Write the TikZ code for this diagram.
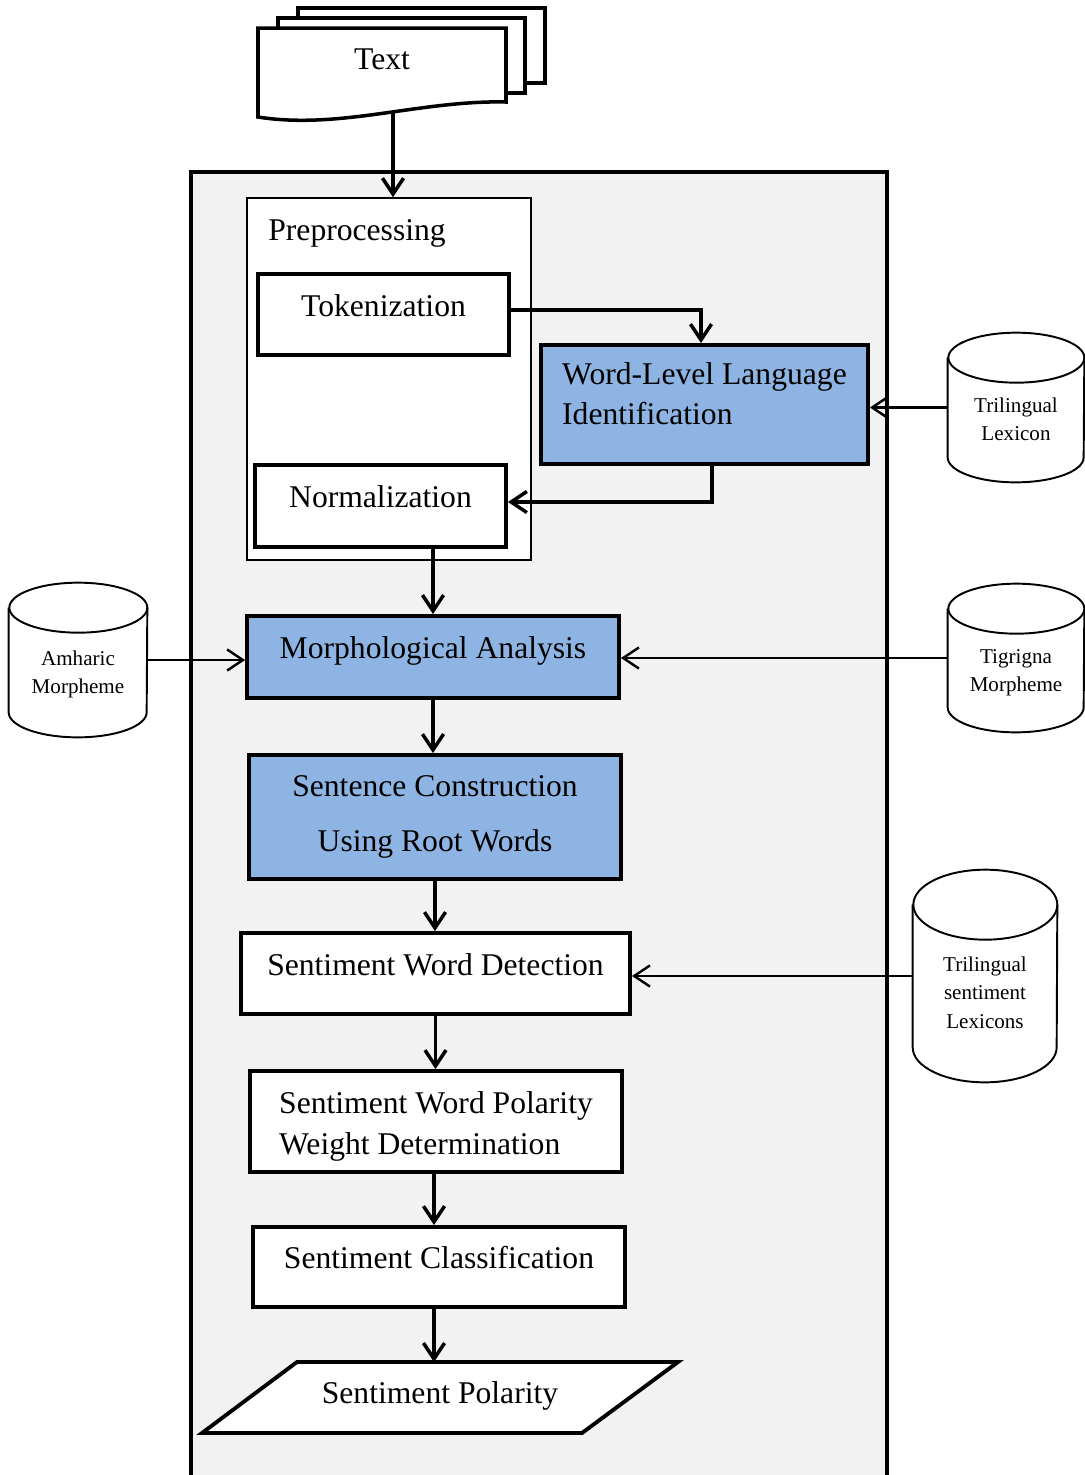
\documentclass[tikz,border=0pt]{standalone}
\usepackage{fontspec}
\setmainfont{Liberation Serif}
\usetikzlibrary{arrows.meta}

\definecolor{boxblue}{RGB}{142,180,227}
\definecolor{panelgray}{RGB}{242,242,242}

% cylinder outline round a named node: #1 node, #2 x radius, #3 y radius
\newcommand{\dbcyl}[3]{%
  \draw[dbline] ([yshift=-#3*0.02cm]#1.north west) -- ([yshift=#3*0.02cm]#1.south west)
    arc[start angle=180, end angle=360, x radius=#2, y radius=#3]
    -- ([yshift=-#3*0.02cm]#1.north east)
    arc[start angle=0, end angle=180, x radius=#2, y radius=#3];
  \draw[dbline] ([yshift=-#3*0.02cm]#1.north east)
    arc[start angle=0, end angle=-180, x radius=#2, y radius=#3];
}

\begin{document}
\begin{tikzpicture}[x=0.02cm, y=0.02cm, >={Straight Barb[length=9pt,width=12pt]},
  bigfont/.style={font=\fontsize{18}{23}\selectfont},
  proc/.style={draw, line width=2.2pt, fill=white, inner sep=0pt, bigfont, text height=13pt, text depth=11pt},
  procblue/.style={proc, fill=boxblue},
  db/.style={inner sep=0pt, align=center, font=\fontsize{12}{16}\selectfont, text height=41pt, text depth=3pt},
  dbline/.style={line width=1.1pt},
  flow/.style={->, line width=2pt},
  feed/.style={->, line width=1.4pt}]
	\useasboundingbox (0,0) rectangle (1085,-1475);
	
	% ==================== panel ====================
	\fill[panelgray] (191,-172) rectangle (887,-1475);
	\draw[line width=1.8pt] (191,-1475) -- (191,-172) -- (887,-172) -- (887,-1475);
	
	% ==================== input documents ====================
	\draw[line width=2pt, fill=white] (298,-8) rectangle (545,-83);
	\draw[line width=2pt, fill=white] (278,-18) rectangle (525,-93);
	\draw[line width=2pt, fill=white] (258,-28) -- (506,-28) -- (506,-102)
		.. controls (420,-100) and (340,-130) .. (258,-117) -- cycle;
	\node[bigfont] (doc) at (382,-59) {Text};
	\coordinate (docbot) at (393,-112);
	
	% ==================== preprocessing ====================
	\node[draw, line width=1pt, fill=white, minimum width=5.68cm, minimum height=7.24cm] (pre) at (389,-379) {};
	\node[bigfont, anchor=base west, inner sep=0pt] (pretitle) at (268,-240) {Preprocessing};
	\node[proc, minimum width=5.02cm, minimum height=1.62cm] (tok) at (383.5,-314.5) {Tokenization};
	\node[proc, minimum width=5.02cm, minimum height=1.64cm] (norm) at (380.5,-506) {Normalization};
	\node[procblue, align=left, minimum width=6.54cm, minimum height=2.38cm, text height=35.8pt, text depth=12.5pt] (wlli) at (704.5,-404.5) {Word-Level Language\\Identification};
	
	% ==================== main steps ====================
	\node[procblue, minimum width=7.44cm, minimum height=1.64cm] (morph) at (433,-657) {Morphological Analysis};
	\node[procblue, align=center, minimum width=7.44cm, minimum height=2.48cm, text height=44pt, text depth=5.3pt] (sent) at (435,-817) {Sentence Construction\\[8pt]Using Root Words};
	\node[proc, minimum width=7.78cm, minimum height=1.62cm] (swd) at (435.5,-973.5) {Sentiment Word Detection};
	\node[proc, align=left, minimum width=7.44cm, minimum height=2.02cm, text height=40pt, text depth=3pt] (pol) at (436,-1121.5) {Sentiment Word Polarity\\Weight Determination};
	\node[proc, minimum width=7.44cm, minimum height=1.6cm] (cls) at (439,-1267) {Sentiment Classification};
	
	% output
	\draw[line width=2.2pt, fill=white] (297,-1362) -- (678,-1362) -- (582,-1433) -- (202,-1433) -- cycle;
	\node[bigfont] (out) at (440,-1396) {Sentiment Polarity};
	\coordinate (outtop) at (434,-1362);
	
	% ==================== resources ====================
	\node[db, minimum width=2.72cm, minimum height=2.98cm] (lexc) at (1016,-407.5) {Trilingual\\Lexicon};
	\node[db, minimum width=2.76cm, minimum height=3.08cm] (amh) at (78,-660) {Amharic\\Morpheme};
	\node[db, minimum width=2.72cm, minimum height=2.96cm] (tig) at (1016,-658) {Tigrigna\\Morpheme};
	\node[db, minimum width=2.88cm, minimum height=4.24cm, text height=62pt, text depth=2.8pt] (slex) at (985,-976) {Trilingual\\sentiment\\Lexicons};
	\dbcyl{lexc}{68}{25}
	\dbcyl{amh}{69}{25}
	\dbcyl{tig}{68}{25}
	\dbcyl{slex}{72}{35}
	
	% ==================== arrows ====================
	\draw[flow] (docbot) -- (docbot |- pre.north);
	\draw[flow] ([yshift=0.09cm]tok.east) -| ([xshift=-0.07cm]wlli.north);
	\draw[flow] ([xshift=0.15cm]wlli.south) |- ([yshift=0.08cm]norm.east);
	\draw[flow] (norm.south -| morph.north) -- (morph.north);
	\draw[flow] (morph.south) -- (morph.south |- sent.north);
	\draw[flow] (sent.south) -- (sent.south |- swd.north);
	\draw[flow] (swd.south) -- (swd.south |- pol.north);
	\draw[flow] ([xshift=-0.04cm]pol.south) -- ([xshift=-0.04cm]pol.south |- cls.north);
	\draw[flow] ([xshift=-0.1cm]cls.south) -- ([xshift=-0.1cm]cls.south |- outtop);
	
	\draw[feed] (lexc.west) -- (lexc.west -| wlli.east);
	\draw[feed] (amh.east) -- (amh.east -| morph.west);
	\draw[feed] (tig.west) -- (tig.west -| morph.east);
	\draw[feed] (slex.west) -- (slex.west -| swd.east);
\end{tikzpicture}
\end{document}
